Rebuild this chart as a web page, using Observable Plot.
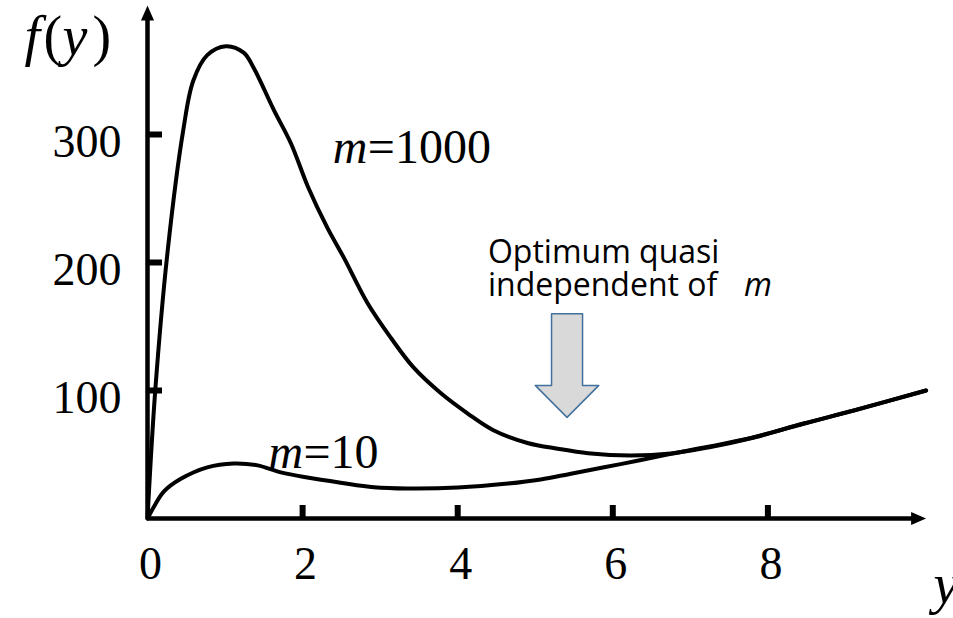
<!DOCTYPE html>
<html>
<head>
<meta charset="utf-8">
<script src="https://cdn.jsdelivr.net/npm/d3@7"></script>
<script src="https://cdn.jsdelivr.net/npm/@observablehq/plot@0.6"></script>
<style>
  html, body { margin: 0; padding: 0; background: #fff; }
  #chart svg { display: block; }
</style>
</head>
<body>
<div id="chart"></div>
<script>
// f(y) against y for two values of m
const m1000Y = [0, 0.1, 0.26, 0.46, 0.59, 0.77, 1.01, 1.24, 1.37, 1.63, 1.85, 2.07, 2.32, 2.53, 2.84, 3.14, 3.43, 3.78, 4.13, 4.46, 4.9, 5.29, 5.68, 6.23, 6.75, 7.23, 7.82, 8.46, 9.11, 10.04];
const m1000F = [0, 100, 209, 303, 342, 362, 369, 364, 352, 319, 293, 259, 227, 204, 168, 141, 118, 98, 82, 69, 59, 54.5, 51, 49.2, 50.8, 55.5, 63.3, 74.2, 84.4, 100];

const m10Y = [0, 0.1, 0.21, 0.43, 0.77, 1.11, 1.42, 1.72, 2.06, 2.49, 2.92, 3.35, 4.0, 4.65, 5.07, 5.46, 6.1, 6.75, 7.23, 7.82, 8.46, 9.11, 10.04];
const m10F = [0, 11, 21, 31, 40, 43, 41.5, 36, 32, 28, 24.5, 23.5, 24.2, 27.3, 30.5, 35, 42.5, 50.5, 56, 63.5, 74, 84.5, 100];

// axes
const xTickValues = [2, 4, 6, 8];
const xTickLabels = [0, 2, 4, 6, 8];
const yTickValues = [100, 200, 300];
const xAxisEnd = 10.04;
const yAxisEnd = 400.8;

// curve labels: where the "m" starts, and the value that follows it
const labelY = [2.39, 1.56];
const labelF = [278, 39.8];
const labelValue = ["=1000", "=10"];

// the "optimum" note and its arrow
const noteText = "Optimum quasi\nindependent of";
const noteY = 4.39;
const noteF = 174.2;
const arrowAt = 5.41;
const arrowTop = 160;
const arrowShoulder = 104;
const arrowTip = 79;
const shaftHalf = 0.2;
const headHalf = 0.41;

const curveRows = [
  ...m1000Y.map((y, i) => ({m: "1000", y, f: m1000F[i]})),
  ...m10Y.map((y, i) => ({m: "10", y, f: m10F[i]}))
];
const labelRows = labelY.map((y, i) => ({y, f: labelF[i], value: labelValue[i]}));
const arrowShape = [
  [arrowAt - shaftHalf, arrowTop],
  [arrowAt + shaftHalf, arrowTop],
  [arrowAt + shaftHalf, arrowShoulder],
  [arrowAt + headHalf, arrowShoulder],
  [arrowAt, arrowTip],
  [arrowAt - headHalf, arrowShoulder],
  [arrowAt - shaftHalf, arrowShoulder]
].map(([y, f]) => ({y, f}));

const serif = "'Liberation Serif', 'Times New Roman', serif";
const sans = "'Open Sans', 'Noto Sans', sans-serif";

// filled arrowhead, tip at the anchor point, pointing up
const arrowHead = {
  draw(context) {
    context.moveTo(0, 0);
    context.lineTo(6.5, 15);
    context.lineTo(-6.5, 15);
    context.closePath();
  }
};

const plot = Plot.plot({
  width: 953,
  height: 618,
  margin: 0,
  style: {background: "#fff", overflow: "visible"},
  x: {domain: [0, 10], range: [147, 922.5], axis: null},
  y: {domain: [0, 400], range: [518, 6], axis: null},
  marks: [
    // axis lines with arrowheads
    Plot.ruleY([0], {x1: 0, x2: xAxisEnd - 0.1, stroke: "#000", strokeWidth: 4.5}),
    Plot.ruleX([0], {y1: 0, y2: yAxisEnd - 8, stroke: "#000", strokeWidth: 4.5}),
    Plot.dot([{y: xAxisEnd, f: 0}], {x: "y", y: "f", symbol: arrowHead, rotate: 90, fill: "#000", stroke: "none"}),
    Plot.dot([{y: 0, f: yAxisEnd}], {x: "y", y: "f", symbol: arrowHead, fill: "#000", stroke: "none"}),
    // ticks drawn inside the axes
    Plot.ruleX(xTickValues, {y1: 0, y2: 0, insetTop: -13, stroke: "#000", strokeWidth: 6}),
    Plot.ruleY(yTickValues, {x1: 0, x2: 0, insetRight: -15, stroke: "#000", strokeWidth: 6}),
    // tick labels
    Plot.text(xTickLabels, {x: d => d, y: 0, text: d => String(d), dx: 3, dy: 60, lineAnchor: "bottom",
      fontFamily: serif, fontSize: 46, fill: "#000"}),
    Plot.text(yTickValues, {x: 0, y: d => d, text: d => String(d), textAnchor: "end", dx: -26, dy: 22, lineAnchor: "bottom",
      fontFamily: serif, fontSize: 46, fill: "#000"}),
    // curves
    Plot.line(curveRows, {x: "y", y: "f", z: "m", curve: "catmull-rom", stroke: "#000", strokeWidth: 4,
      strokeLinejoin: "round", strokeLinecap: "round"}),
    // curve labels: italic m followed by its value
    Plot.text(labelRows, {x: "y", y: "f", text: () => "m", textAnchor: "start", lineAnchor: "bottom",
      fontFamily: serif, fontStyle: "italic", fontSize: 48, fill: "#000"}),
    Plot.text(labelRows, {x: "y", y: "f", text: "value", textAnchor: "start", lineAnchor: "bottom", dx: 35,
      fontFamily: serif, fontSize: 48, fill: "#000"}),
    // axis titles: f(y) and y
    Plot.text(["f"], {frameAnchor: "top-left", dx: 24, dy: 54, lineAnchor: "bottom", fontFamily: serif, fontStyle: "italic", fontSize: 56, fill: "#000"}),
    Plot.text(["("], {frameAnchor: "top-left", dx: 43, dy: 54, lineAnchor: "bottom", fontFamily: serif, fontSize: 56, fill: "#000"}),
    Plot.text(["y"], {frameAnchor: "top-left", dx: 62, dy: 54, lineAnchor: "bottom", fontFamily: serif, fontStyle: "italic", fontSize: 56, fill: "#000"}),
    Plot.text([")"], {frameAnchor: "top-left", dx: 92, dy: 54, lineAnchor: "bottom", fontFamily: serif, fontSize: 56, fill: "#000"}),
    Plot.text(["y"], {frameAnchor: "top-left", dx: 933, dy: 602, lineAnchor: "bottom", textAnchor: "start", fontFamily: serif, fontStyle: "italic", fontSize: 56, fill: "#000"}),
    // optimum note
    Plot.line(arrowShape, {x: "y", y: "f", curve: "linear-closed", fill: "#d9d9d9", stroke: "#41719c", strokeWidth: 1.5}),
    Plot.text([noteText], {x: noteY, y: noteF, text: d => d, textAnchor: "start", lineAnchor: "bottom", lineHeight: 1.03,
      fontFamily: sans, fontSize: 32, fill: "#000"}),
    Plot.text(["m"], {x: noteY, y: noteF, textAnchor: "start", lineAnchor: "bottom", dx: 256,
      fontFamily: sans, fontStyle: "italic", fontSize: 32, fill: "#000"})
  ]
});

document.getElementById("chart").appendChild(plot);
</script>
</body>
</html>
